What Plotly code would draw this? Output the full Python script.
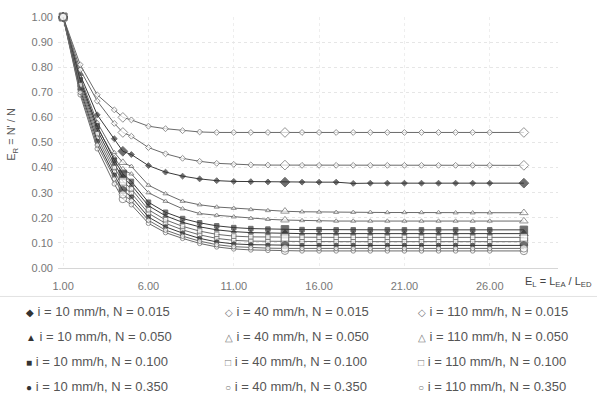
import plotly.graph_objects as go

# Relative length E_L = L_EA / L_ED at which E_R was evaluated
x_el = [1, 2, 3, 4, 4.5, 5, 6, 7, 8, 9, 10, 11, 12, 13, 14,
        15, 16, 17, 18, 19, 20, 21, 22, 23, 24, 25, 26, 28]

# Rainfall intensities (mm/h) and Manning roughness values
intensities = [10, 40, 110]
manning_n = ["0.015", "0.050", "0.100", "0.350"]

# E_R = N' / N for each (i, N) combination
er_i10_n015 = [1.00, 0.77, 0.61, 0.515, 0.465, 0.452, 0.408, 0.382, 0.366, 0.355, 0.348, 0.345, 0.344, 0.343, 0.342,
               0.342, 0.342, 0.342, 0.337, 0.338, 0.338, 0.338, 0.338, 0.338, 0.338, 0.338, 0.338, 0.338]
er_i40_n015 = [1.00, 0.79, 0.665, 0.576, 0.54, 0.525, 0.48, 0.455, 0.437, 0.425, 0.417, 0.413, 0.411, 0.410, 0.410,
               0.409, 0.409, 0.409, 0.409, 0.409, 0.409, 0.409, 0.409, 0.409, 0.409, 0.409, 0.409, 0.409]
er_i110_n015 = [1.00, 0.81, 0.69, 0.63, 0.60, 0.59, 0.565, 0.555, 0.547, 0.542, 0.540, 0.540, 0.540, 0.540, 0.540,
                0.540, 0.540, 0.540, 0.540, 0.540, 0.540, 0.540, 0.540, 0.540, 0.540, 0.540, 0.540, 0.540]

er_i10_n050 = [1.00, 0.74, 0.55, 0.415, 0.36, 0.33, 0.248, 0.208, 0.182, 0.164, 0.152, 0.145, 0.141, 0.139, 0.138,
               0.137, 0.137, 0.137, 0.137, 0.137, 0.137, 0.137, 0.137, 0.137, 0.137, 0.137, 0.137, 0.137]
er_i40_n050 = [1.00, 0.75, 0.56, 0.44, 0.39, 0.375, 0.30, 0.266, 0.236, 0.217, 0.210, 0.204, 0.198, 0.194, 0.191,
               0.189, 0.188, 0.187, 0.187, 0.187, 0.187, 0.187, 0.187, 0.187, 0.187, 0.187, 0.187, 0.187]
er_i110_n050 = [1.00, 0.76, 0.58, 0.46, 0.42, 0.405, 0.33, 0.296, 0.266, 0.252, 0.243, 0.238, 0.233, 0.229, 0.226,
                0.224, 0.223, 0.222, 0.222, 0.222, 0.221, 0.221, 0.221, 0.221, 0.220, 0.220, 0.220, 0.220]

er_i10_n100 = [1.00, 0.75, 0.565, 0.43, 0.375, 0.345, 0.262, 0.222, 0.197, 0.180, 0.168, 0.161, 0.157, 0.155, 0.154,
               0.153, 0.153, 0.152, 0.152, 0.152, 0.152, 0.152, 0.152, 0.152, 0.152, 0.152, 0.152, 0.152]
er_i40_n100 = [1.00, 0.72, 0.52, 0.385, 0.325, 0.298, 0.218, 0.178, 0.152, 0.132, 0.118, 0.110, 0.107, 0.106, 0.105,
               0.105, 0.105, 0.105, 0.105, 0.105, 0.105, 0.105, 0.105, 0.105, 0.105, 0.105, 0.105, 0.105]
er_i110_n100 = [1.00, 0.73, 0.535, 0.40, 0.345, 0.315, 0.232, 0.192, 0.166, 0.147, 0.134, 0.127, 0.124, 0.123, 0.122,
                0.122, 0.122, 0.122, 0.122, 0.122, 0.122, 0.122, 0.122, 0.122, 0.122, 0.122, 0.122, 0.122]

er_i10_n350 = [1.00, 0.71, 0.505, 0.37, 0.31, 0.283, 0.203, 0.164, 0.139, 0.118, 0.104, 0.096, 0.093, 0.091, 0.090,
               0.090, 0.090, 0.090, 0.090, 0.090, 0.090, 0.090, 0.090, 0.090, 0.090, 0.090, 0.090, 0.090]
er_i40_n350 = [1.00, 0.69, 0.475, 0.335, 0.275, 0.252, 0.178, 0.141, 0.118, 0.098, 0.084, 0.076, 0.072, 0.070, 0.069,
               0.068, 0.068, 0.068, 0.068, 0.068, 0.068, 0.068, 0.068, 0.068, 0.068, 0.068, 0.068, 0.068]
er_i110_n350 = [1.00, 0.70, 0.49, 0.355, 0.293, 0.268, 0.19, 0.151, 0.127, 0.107, 0.093, 0.085, 0.081, 0.079, 0.078,
                0.078, 0.078, 0.078, 0.078, 0.078, 0.078, 0.078, 0.078, 0.078, 0.078, 0.078, 0.078, 0.078]

# Axis ticks
x_tickvals = [1, 6, 11, 16, 21, 26]
x_ticktext = ["1.00", "6.00", "11.00", "16.00", "21.00", "26.00"]
y_tickvals = [0.0, 0.1, 0.2, 0.3, 0.4, 0.5, 0.6, 0.7, 0.8, 0.9, 1.0]
y_ticktext = ["0.00", "0.10", "0.20", "0.30", "0.40", "0.50", "0.60", "0.70", "0.80", "0.90", "1.00"]

# Points drawn with enlarged symbols
key_points = [1, 4.5, 14, 28]

# Series grid: rows follow manning_n, columns follow intensities
series_grid = [
    [er_i10_n015, er_i40_n015, er_i110_n015],
    [er_i10_n050, er_i40_n050, er_i110_n050],
    [er_i10_n100, er_i40_n100, er_i110_n100],
    [er_i10_n350, er_i40_n350, er_i110_n350],
]
shape_per_row = ["diamond", "triangle-up", "square", "circle"]
glyph_filled = ["\u25C6", "\u25B2", "\u25A0", "\u25CF"]
glyph_open = ["\u25C7", "\u25B3", "\u25A1", "\u25CB"]

FONT = "Liberation Sans, Arial, sans-serif"

fig = go.Figure()

sizes = [7.5 if xv in key_points else 4.5 for xv in x_el]

for r, row in enumerate(series_grid):
    for c, values in enumerate(row):
        filled = (c == 0)
        line_col = "#3a3a3a" if filled else "#6a6a6a"
        fig.add_trace(go.Scatter(
            x=x_el, y=values,
            mode="lines+markers",
            name=f"i = {intensities[c]} mm/h, N = {manning_n[r]}",
            line=dict(color=line_col, width=1),
            marker=dict(
                symbol=shape_per_row[r],
                size=sizes,
                color="#333333" if filled else "white",
                line=dict(color="#333333" if filled else "#666666", width=1),
            ),
            cliponaxis=False,
            showlegend=False,
        ))

# Plot-area geometry in pixels (used to place text outside the axes)
W, H = 597, 398
L, R, T, B = 58, 39, 17, 129.5
pw, ph = W - L - R, H - T - B


def px_x(p):
    return (p - L) / pw


def px_y(p):
    return (H - B - p) / ph


annotations = []

# Legend: 4 rows (N) x 3 columns (i)
col_px = [24, 223, 416]
row_px = [312, 337, 362, 387]
for r in range(len(manning_n)):
    for c in range(len(intensities)):
        glyph = glyph_filled[r] if c == 0 else glyph_open[r]
        gcol = "#333333" if c == 0 else "#777777"
        label = f"i = {intensities[c]} mm/h, N = {manning_n[r]}"
        annotations.append(dict(
            x=px_x(col_px[c]), y=px_y(row_px[r]), xref="paper", yref="paper",
            xanchor="left", yanchor="middle", showarrow=False,
            text=f"<span style='font-size:10px;color:{gcol}'>{glyph}</span> {label}",
            font=dict(family=FONT, size=13, color="#555555"),
        ))

# Axis titles
annotations.append(dict(
    x=px_x(12), y=px_y(135), xref="paper", yref="paper",
    xanchor="center", yanchor="middle", showarrow=False, textangle=-90,
    text="E<sub>R</sub> = N' / N",
    font=dict(family=FONT, size=11, color="#555555"),
))
annotations.append(dict(
    x=px_x(523), y=px_y(283), xref="paper", yref="paper",
    xanchor="left", yanchor="middle", showarrow=False,
    text="E<sub>L</sub> = L<sub>EA</sub> / L<sub>ED</sub>",
    font=dict(family=FONT, size=11, color="#444444"),
))

fig.update_layout(
    width=W, height=H,
    margin=dict(l=L, r=R, t=T, b=B, pad=0),
    paper_bgcolor="white", plot_bgcolor="white",
    font=dict(family=FONT, size=11, color="#777777"),
    annotations=annotations,
    shapes=[dict(type="line", xref="paper", yref="paper",
                 x0=px_x(0), x1=px_x(597), y0=px_y(297), y1=px_y(297),
                 line=dict(color="#e2e2e2", width=1))],
)

fig.update_xaxes(
    range=[0.7, 30.0],
    tickvals=x_tickvals, ticktext=x_ticktext,
    showgrid=True, gridcolor="#eeeeee", griddash="dot", gridwidth=1,
    zeroline=False, showline=False, ticks="",
    ticklabelstandoff=10,
    tickfont=dict(family=FONT, size=11, color="#777777"),
)
fig.update_yaxes(
    range=[0, 1.0],
    tickvals=y_tickvals, ticktext=y_ticktext,
    showgrid=True, gridcolor="#e6e6e6", griddash="dot", gridwidth=1,
    zeroline=True, zerolinecolor="#d6d6d6", zerolinewidth=1,
    showline=False, ticks="",
    ticklabelstandoff=4,
    tickfont=dict(family=FONT, size=11, color="#777777"),
)

fig.write_html("out.html")
